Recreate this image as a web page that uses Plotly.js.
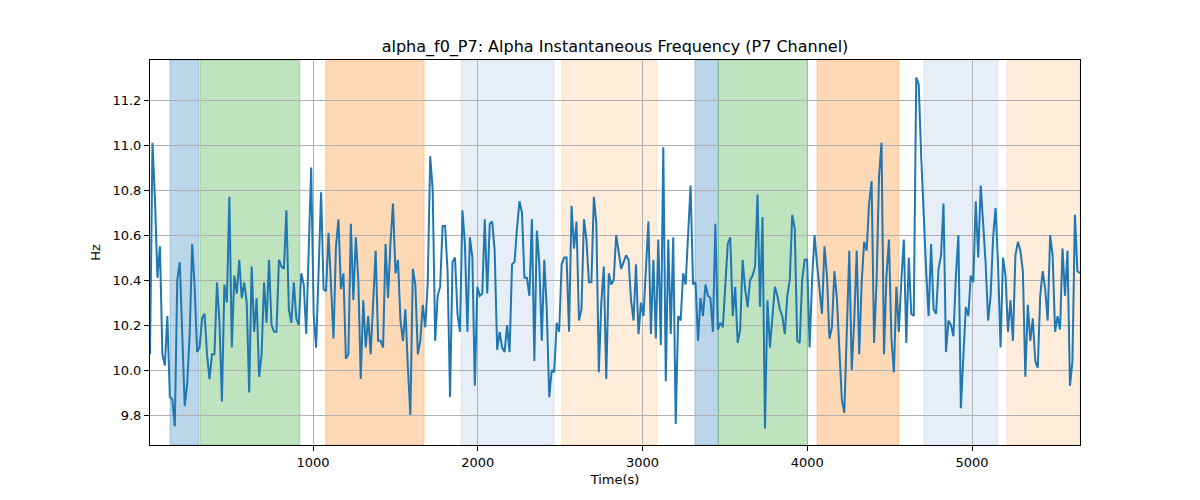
<!DOCTYPE html>
<html>
<head>
<meta charset="utf-8">
<script src="https://cdn.plot.ly/plotly-3.0.1.min.js"></script>
<style>html,body{margin:0;padding:0;background:#fff;}#chart{width:1200px;height:500px;}</style>
</head>
<body>
<div id="chart"></div>
<script>
// ---- data ----
const sampleStart = 10.6;   // s, first sample
const sampleStep = 15.05;   // s between samples

const freqPart1 = [
  10.07, 11.01, 10.76, 10.41, 10.55, 10.07, 10.02, 10.24, 9.88, 9.87,
  9.75, 10.40, 10.48, 10.15, 9.84, 9.94, 10.16, 10.56, 10.37, 10.08,
  10.10, 10.23, 10.25, 10.07, 9.96, 10.07, 10.07, 10.39, 10.22, 9.86,
  10.38, 10.30, 10.77, 10.10, 10.42, 10.34, 10.49, 10.32, 10.39, 10.30,
  9.90, 10.46, 10.17, 10.32, 9.97, 10.07, 10.39, 10.21, 10.49, 10.20,
  10.17, 10.17, 10.49, 10.46, 10.45, 10.71, 10.27, 10.21, 10.39, 10.23,
  10.20, 10.43, 10.38, 10.16, 10.53, 10.90, 10.25, 10.10, 10.44, 10.79,
  10.36, 10.35, 10.61, 10.39, 10.14, 10.55, 10.67
];
const freqPart2 = [
  10.36, 10.43, 10.05, 10.07, 10.65, 10.31, 10.59, 10.40, 9.96, 10.31,
  10.10, 10.24, 10.07, 10.31, 10.53, 10.13, 10.13, 10.10, 10.56, 10.32,
  10.57, 10.74, 10.43, 10.49, 10.22, 10.13, 10.27, 10.01, 9.80, 10.45,
  10.38, 10.07, 10.13, 10.29, 10.19, 10.39, 10.95, 10.80, 10.13, 10.33,
  10.37, 10.64, 10.64, 10.44, 9.88, 10.48, 10.50, 10.25, 10.17, 10.71,
  10.56, 10.17, 10.59, 10.50, 9.93, 10.37, 10.33, 10.34, 10.67, 10.34,
  10.65, 10.66, 10.53, 10.09, 10.17, 10.10, 10.08, 10.20, 10.08, 10.47,
  10.48, 10.63, 10.75, 10.70, 10.41, 10.41, 10.33
];
const freqPart3 = [
  10.67, 10.04, 10.62, 10.47, 10.13, 10.49, 10.27, 9.88, 10.00, 9.99,
  10.21, 10.17, 10.47, 10.50, 10.50, 10.17, 10.73, 10.54, 10.66, 10.22,
  10.27, 10.67, 10.58, 10.39, 10.39, 10.77, 10.65, 9.99, 10.30, 10.46,
  9.96, 10.43, 10.38, 10.40, 10.60, 10.53, 10.45, 10.48, 10.51, 10.49,
  10.31, 10.22, 10.47, 10.16, 10.30, 10.24, 10.46, 10.66, 10.16, 10.49,
  10.14, 10.58, 10.11, 10.99, 9.95, 10.58, 10.16, 10.59, 9.76, 10.24,
  10.22, 10.43, 10.38, 10.62, 10.82, 10.38, 10.39, 10.13, 10.32, 10.24,
  10.38, 10.33, 10.32, 10.17, 10.65, 10.18
];
const freqPart4 = [
  10.21, 10.19, 10.40, 10.56, 10.59, 10.24, 10.37, 10.12, 10.18, 10.49,
  10.36, 10.28, 10.40, 10.42, 10.46, 10.78, 10.28, 10.68, 9.74, 10.31,
  10.10, 10.25, 10.37, 10.33, 10.27, 10.24, 10.16, 10.33, 10.40, 10.69,
  10.63, 10.13, 10.12, 10.40, 10.49, 10.49, 10.10, 10.40, 10.60, 10.47,
  10.36, 10.25, 10.55, 10.42, 10.14, 10.19, 10.44, 10.32, 10.09, 9.87,
  9.81, 10.16, 10.53, 10.00, 10.22, 10.53, 10.07, 10.39, 10.57, 10.53,
  10.74, 10.84, 10.12, 10.39, 10.86, 11.01, 10.07, 10.42, 10.58, 10.14,
  9.99, 10.37, 10.17, 10.40, 10.58, 10.12, 10.50
];
const freqPart5 = [
  10.25, 10.24, 11.30, 11.27, 10.95, 10.65, 10.44, 10.24, 10.56, 10.27,
  10.25, 10.45, 10.51, 10.74, 10.08, 10.22, 10.20, 10.15, 10.42, 10.60,
  9.83, 10.06, 10.28, 10.24, 10.42, 10.39, 10.75, 10.50, 10.82, 10.65,
  10.47, 10.22, 10.33, 10.59, 10.72, 10.47, 10.10, 10.50, 10.42, 10.17,
  10.31, 10.13, 10.51, 10.57, 10.53, 10.44, 9.97, 10.29, 10.13, 10.23,
  10.04, 10.01, 10.33, 10.44, 10.36, 10.22, 10.60, 10.51, 10.17, 10.24,
  10.18, 10.54, 10.33, 10.53, 9.93, 10.04, 10.69, 10.44, 10.43
];

// shaded periods (s) and their kind
const bandStart = [132, 316, 1077, 1898, 2511, 3318, 3460, 4059, 4708, 5212];
const bandEnd   = [308, 920, 1674, 2462, 3086, 3460, 4000, 4555, 5155, 5655];
const bandKind  = ["A", "B", "C", "D", "E", "A", "B", "C", "D", "E"];

const xTicks = [1000, 2000, 3000, 4000, 5000];
const yTicks = [9.8, 10.0, 10.2, 10.4, 10.6, 10.8, 11.0, 11.2];

// ---- styling ----
const kindColor = {
  A: "rgba(31,119,180,0.3)",
  B: "rgba(44,160,44,0.3)",
  C: "rgba(255,127,14,0.3)",
  D: "rgba(60,120,195,0.13)",
  E: "rgba(255,127,14,0.15)"
};

const freq = [].concat(freqPart1, freqPart2, freqPart3, freqPart4, freqPart5);
const times = freq.map((_, i) => sampleStart + i * sampleStep);

const shapes = bandStart.map((s, i) => ({
  type: "rect", xref: "x", yref: "paper",
  x0: s, x1: bandEnd[i], y0: 0, y1: 1,
  fillcolor: kindColor[bandKind[i]],
  line: {color: kindColor[bandKind[i]], width: 1},
  layer: "below"
}));

const font = {family: "DejaVu Sans, sans-serif", color: "#000", size: 13};

const trace = {
  x: times, y: freq, type: "scatter", mode: "lines",
  line: {color: "#1f77b4", width: 2},
  hoverinfo: "skip", showlegend: false
};

const axisCommon = {
  showline: true, mirror: true, linecolor: "#000", linewidth: 1,
  ticks: "outside", ticklen: 5, tickwidth: 1, tickcolor: "#000",
  showgrid: true, gridcolor: "#b0b0b0", gridwidth: 1,
  zeroline: false, tickfont: font
};

const layout = {
  width: 1200, height: 500,
  margin: {l: 150, r: 120, t: 60, b: 55},
  paper_bgcolor: "#fff", plot_bgcolor: "#fff",
  font: font,
  title: {
    text: "alpha_f0_P7: Alpha Instantaneous Frequency (P7 Channel)",
    font: {family: "DejaVu Sans, sans-serif", size: 16, color: "#000"},
    xref: "paper", x: 0.5, xanchor: "center",
    yref: "container", y: 0.908, yanchor: "middle"
  },
  xaxis: Object.assign({}, axisCommon, {
    range: [sampleStart, 5655],
    tickvals: xTicks, ticktext: xTicks.map(String),
    title: {text: "Time(s)", font: font, standoff: 6}
  }),
  yaxis: Object.assign({}, axisCommon, {
    range: [9.667, 11.378],
    tickvals: yTicks, ticktext: yTicks.map(v => v.toFixed(1)),
    title: {text: "Hz", font: font, standoff: 8}
  }),
  shapes: shapes
};

Plotly.newPlot("chart", [trace], layout, {displayModeBar: false, staticPlot: true});
</script>
</body>
</html>
